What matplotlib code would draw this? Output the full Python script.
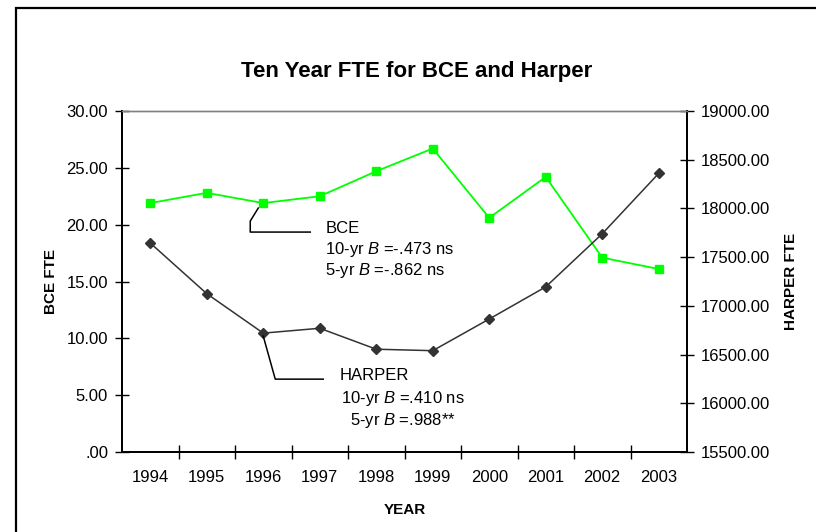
import numpy as np
import matplotlib
matplotlib.use("Agg")
import matplotlib.pyplot as plt
from matplotlib.lines import Line2D
from matplotlib.patches import Rectangle
from matplotlib.ticker import FixedLocator, FuncFormatter

plt.rcParams["font.family"] = ["Liberation Sans", "DejaVu Sans"]
plt.rcParams["mathtext.fontset"] = "custom"
plt.rcParams["mathtext.it"] = "Liberation Sans:italic"
plt.rcParams["mathtext.rm"] = "Liberation Sans"

# data
years = ["1994", "1995", "1996", "1997", "1998", "1999", "2000", "2001", "2002", "2003"]
bce_fte = [21.9, 22.8, 21.9, 22.5, 24.7, 26.7, 20.6, 24.2, 17.1, 16.1]
harper_fte = [17645, 17125, 16720, 16770, 16555, 16540, 16865, 17195, 17740, 18360]

bce_note = ["BCE", r"10-yr $\it{B}$ =-.473 ns", r"5-yr $\it{B}$ =-.862 ns"]
harper_note = ["HARPER", r"10-yr $\it{B}$ =.410 ns", r"5-yr $\it{B}$ =.988**"]

W, H = 816, 532
fig = plt.figure(figsize=(W / 100, H / 100), dpi=100)

# outer chart frame (cropped at right/bottom)
fig.add_artist(Rectangle((16 / W, -0.1), 1.2, 1 - 8 / H + 0.1, transform=fig.transFigure,
                         fill=False, edgecolor="black", linewidth=1.6))

ax = fig.add_axes([122 / W, 1 - 452 / H, 565 / W, 341 / H])
ax2 = ax.twinx()

x = np.arange(len(years))
ax.plot(x, bce_fte, color="#00ff00", lw=1.3, marker="s", ms=6, zorder=3)
ax2.plot(x, harper_fte, color="#333333", lw=1.1, marker="D", ms=5.5, zorder=3)

ax.set_xlim(-0.5, len(years) - 0.5)
ax.set_ylim(0, 30)
ax2.set_ylim(15500, 19000)

ax.set_xticks(x)
ax.set_xticklabels(years)
ax.xaxis.set_minor_locator(FixedLocator(np.arange(0.5, len(years) - 1, 1)))
ax.tick_params(axis="x", which="major", length=0, pad=13, labelsize=12)
ax.tick_params(axis="x", which="minor", direction="inout", length=10, width=1)

ax.set_yticks(np.arange(0, 31, 5))
ax.yaxis.set_major_formatter(FuncFormatter(lambda v, p: f"{v:.2f}".lstrip("0") if v < 1 else f"{v:.2f}"))
ax.tick_params(axis="y", direction="inout", length=10, width=1, pad=5, labelsize=12)

ax2.set_yticks(np.arange(15500, 19001, 500))
ax2.yaxis.set_major_formatter(FuncFormatter(lambda v, p: f"{v:.2f}"))
ax2.tick_params(axis="y", direction="inout", length=10, width=1, pad=5, labelsize=12)

for a in (ax, ax2):
    for s in ("left", "right", "bottom"):
        a.spines[s].set_color("black")
        a.spines[s].set_linewidth(1.3)
    a.spines["top"].set_color("#808080")
    a.spines["top"].set_linewidth(1.0)

ax.set_ylabel("BCE FTE", fontsize=11, fontweight="bold", labelpad=6)
ax2.set_ylabel("HARPER FTE", fontsize=11, fontweight="bold", labelpad=10)
ax.set_xlabel("YEAR", fontsize=11, fontweight="bold", labelpad=13)

fig.text(0.51, 1 - 71 / H, "Ten Year FTE for BCE and Harper", ha="center", va="center",
         fontsize=16, fontweight="bold")

# annotations with leader lines (pixel offsets from the 1996 markers)
def leader(axis, xi, yi, offsets):
    px, py = axis.transData.transform((xi, yi))
    pts = [(px + dx, py + dy) for dx, dy in offsets]
    fpts = fig.transFigure.inverted().transform(pts)
    fig.add_artist(Line2D(fpts[:, 0], fpts[:, 1], transform=fig.transFigure,
                          color="black", lw=1.1))

leader(ax, 2, bce_fte[2], [(-5, -5), (-13, -18), (-13, -29), (47, -29)])
leader(ax2, 2, harper_fte[2], [(0, -3), (12, -46), (60, -46)])

for i, line in enumerate(bce_note):
    ax.annotate(line, xy=(2, bce_fte[2]), xytext=(62, -25 - 21 * i), textcoords="offset pixels",
                ha="left", va="center", fontsize=12)

ax2.annotate(harper_note[0], xy=(2, harper_fte[2]), xytext=(76, -42), textcoords="offset pixels",
             ha="left", va="center", fontsize=12)
for i, line in enumerate(harper_note[1:]):
    ax2.annotate(line, xy=(2, harper_fte[2]), xytext=(140, -65 - 22 * i), textcoords="offset pixels",
                 ha="center", va="center", fontsize=12)

fig.savefig("out.png", dpi=100)
